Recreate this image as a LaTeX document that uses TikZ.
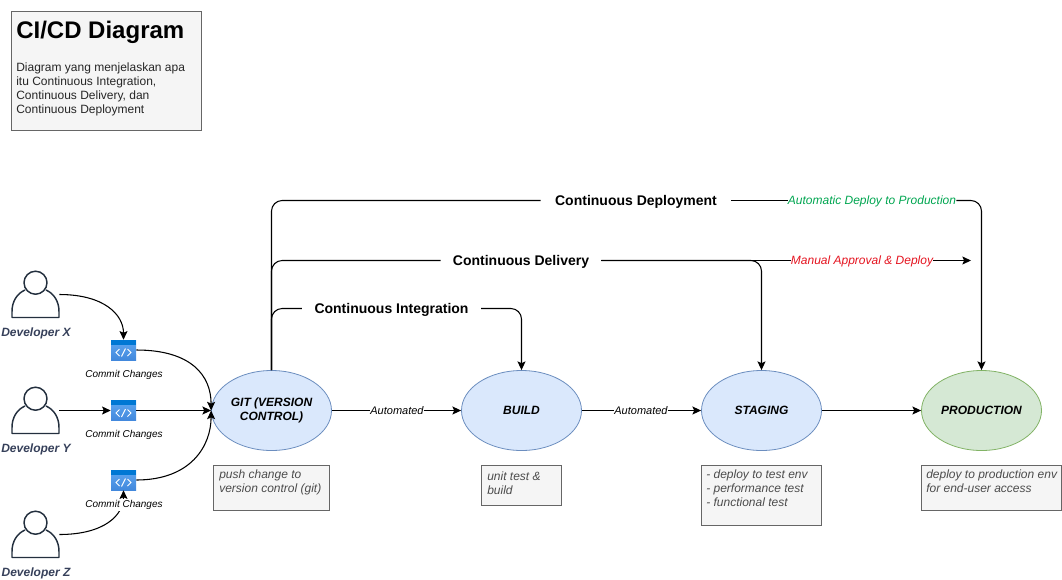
\documentclass[tikz,border=0pt]{standalone}
\usepackage{fontspec}
\setmainfont{Liberation Sans}
\usepackage{xcolor}
\usetikzlibrary{positioning, arrows.meta, calc, shapes.geometric}

\definecolor{stageblue}{HTML}{DAE8FC}
\definecolor{stageline}{HTML}{6C8EBF}
\definecolor{prodgreen}{HTML}{D5E8D4}
\definecolor{prodline}{HTML}{82B366}
\definecolor{notefill}{HTML}{F5F5F5}
\definecolor{noteline}{HTML}{666666}
\definecolor{devcolor}{HTML}{232F3E}
\definecolor{devtext}{HTML}{36405A}
\definecolor{autogreen}{HTML}{00A651}
\definecolor{manualred}{HTML}{E51420}
\definecolor{iconbar}{HTML}{0078D4}
\definecolor{icontop}{HTML}{5FA8F2}
\definecolor{iconbottom}{HTML}{4288DC}

\tikzset{
  flow/.style={line width=0.8pt, -{Stealth[length=6.5pt,width=6pt,inset=1.3pt]}},
  plain/.style={line width=0.8pt},
  stage/.style={ellipse, draw=stageline, fill=stageblue, line width=0.6pt, minimum width=90pt, minimum height=60pt, inner sep=0pt, align=center, font=\fontsize{9}{10.5}\selectfont\bfseries\itshape},
  prodstage/.style={stage, draw=prodline, fill=prodgreen},
  notebox/.style={draw=noteline, fill=notefill, line width=0.6pt},
  notetext/.style={anchor=north west, align=left, inner sep=0pt, text=black!70, font=\fontsize{9}{10.5}\selectfont\itshape},
  devlabel/.style={text=devtext, font=\fontsize{9}{10.5}\selectfont\bfseries\itshape},
  commitlabel/.style={fill=white, inner sep=1pt, font=\fontsize{7.5}{9}\selectfont\itshape},
  pipelabel/.style={fill=white, inner sep=0pt, minimum height=15pt, text height=10pt, text depth=2.5pt, font=\fontsize{10.5}{12}\selectfont\bfseries},
  edgelabel/.style={fill=white, inner sep=0pt, font=\fontsize{8.25}{10}\selectfont\itshape},
  statuslabel/.style={fill=white, inner sep=0pt, text height=8pt, text depth=1.9pt, font=\fontsize{9}{10.5}\selectfont\itshape},
  iconbox/.style={minimum width=18.75pt, minimum height=15pt, inner sep=0pt, top color=icontop, bottom color=iconbottom},
  devbox/.style={minimum width=35.25pt, minimum height=35.25pt, inner sep=0pt},
}

% person outline, drawn over an empty node
\newcommand{\developer}[3]{
\node[devbox] (#1) at (#2, #3) {};
\draw[devcolor, line width=1.1pt] ($(#1.center)+(0,-11.8)$) circle (11.5);
\draw[devcolor, line width=1.1pt, line join=round] ($(#1.center)+(-10.5,-4.5)$)
  .. controls +(-8,3.5) and +(0,-10) .. ($(#1.center)+(-23.5,17)$)
  -- ++(0,6) -- ++(47,0) -- ++(0,-6)
  .. controls +(0,-10) and +(8,3.5) .. ($(#1.center)+(10.5,-4.5)$);
}

% blue window with the code sign
\newcommand{\commiticon}[3]{
\node[iconbox] (#1) at (#2, #3) {};
\fill[iconbar] (#1.north west) rectangle ($(#1.north east)+(0,5)$);
\draw[white, line width=0.7pt] ($(#1.center)+(-4,-1)$) -- ++(-3.5,3.5) -- ++(3.5,3.5);
\draw[white, line width=0.7pt] ($(#1.center)+(4,-1)$) -- ++(3.5,3.5) -- ++(-3.5,3.5);
\draw[white, line width=0.7pt] ($(#1.center)+(2,-1.5)$) -- ++(-4,8);
}

\begin{document}
\begin{tikzpicture}[x=0.75pt, y=-0.75pt]
\useasboundingbox (0,0) rectangle (1062,579);

% title
\draw[notebox] (11.5,11) rectangle (201.5,130.5);
\node[anchor=north west, inner sep=0pt, font=\fontsize{18}{21}\selectfont\bfseries] (title) at (16,21) {CI/CD Diagram};
\node[anchor=north west, align=left, inner sep=0pt, text=black!85, font=\fontsize{9}{10.5}\selectfont] (desc) at (16,63) {Diagram yang menjelaskan apa\\itu Continuous Integration,\\Continuous Delivery, dan\\Continuous Deployment};

% stages
\node[stage] (git) at (271.5,410.5) {GIT (VERSION\\CONTROL)};
\node[stage] (build) at (521.5,410.5) {BUILD};
\node[stage] (staging) at (761.5,410.5) {STAGING};
\node[prodstage] (prod) at (981.5,410.5) {PRODUCTION};

% developers and commits
\developer{devx}{35.5}{294.5}
\developer{devy}{35.5}{410.5}
\developer{devz}{35.5}{534.5}
\node[devlabel] (devxname) at (36,333) {Developer X};
\node[devlabel] (devyname) at (36,449) {Developer Y};
\node[devlabel] (devzname) at (36,573) {Developer Z};

\commiticon{commitx}{123.5}{350}
\commiticon{commity}{123.5}{410.5}
\commiticon{commitz}{123.5}{480}

\draw[flow] (devx.east) .. controls +(45,0) and +(0,-25) .. (commitx.north);
\draw[flow] (devy.east) -- (commity.west);
\draw[flow] (devz.east) .. controls +(45,0) and +(0,25) .. (commitz.south);
\draw[flow] (commitx.east) .. controls +(55,0) and +(0,-35) .. (git.west);
\draw[flow] (commity.east) -- (git.west);
\draw[flow] (commitz.east) .. controls +(55,0) and +(0,35) .. (git.west);

\node[commitlabel] (commitxname) at (124,375) {Commit Changes};
\node[commitlabel] (commityname) at (124,435) {Commit Changes};
\node[commitlabel] (commitzname) at (124,505) {Commit Changes};

% pipeline
\node[edgelabel] (autobuild) at (397,410.5) {Automated};
\node[edgelabel] (autostaging) at (641,410.5) {Automated};
\draw[plain] (git.east) -- (autobuild.west);
\draw[flow] (autobuild.east) -- (build.west);
\draw[plain] (build.east) -- (autostaging.west);
\draw[flow] (autostaging.east) -- (staging.west);
\draw[flow] (staging.east) -- (prod.west);

% continuous lines
\node[pipelabel, minimum width=142.5pt] (cdep) at (636,200.5) {Continuous Deployment};
\node[pipelabel, minimum width=120pt] (cdel) at (521,260.5) {Continuous Delivery};
\node[pipelabel, minimum width=134pt] (cint) at (391.5,308.5) {Continuous Integration};
\node[statuslabel, text=autogreen] (autodeploy) at (872,200.5) {Automatic Deploy to Production};
\node[statuslabel, text=manualred] (manualdeploy) at (862,260.5) {Manual Approval \& Deploy};
\coordinate (manualend) at (971,260.5);

\draw[plain, rounded corners=8] (git.north) |- (cdep.west);
\draw[plain] (cdep.east) -- (autodeploy.west);
\draw[flow, rounded corners=8] (autodeploy.east) -| (prod.north);
\draw[plain, rounded corners=8] (git.north) |- (cdel.west);
\draw[plain] (cdel.east) -- (manualdeploy.west);
\draw[flow] (manualdeploy.east) -- (manualend);
\draw[flow, rounded corners=8] (cdel.east) -| (staging.north);
\draw[plain, rounded corners=8] (git.north) |- (cint.west);
\draw[flow, rounded corners=8] (cint.east) -| (build.north);

% notes
\draw[notebox] (213.5,465.5) rectangle (329,510.5);
\node[notetext] (gitnote) at (219,470) {push change to\\version control (git)};
\draw[notebox] (481.5,465.5) rectangle (561.5,505.5);
\node[notetext] (buildnote) at (487,472) {unit test \&\\build};
\draw[notebox] (701.5,465.5) rectangle (821.5,525.5);
\node[notetext] (stagingnote) at (706,470) {- deploy to test env\\- performance test\\- functional test};
\draw[notebox] (921.5,465.5) rectangle (1061,510.5);
\node[notetext] (prodnote) at (926,469.5) {deploy to production env\\for end-user access};
\end{tikzpicture}
\end{document}
